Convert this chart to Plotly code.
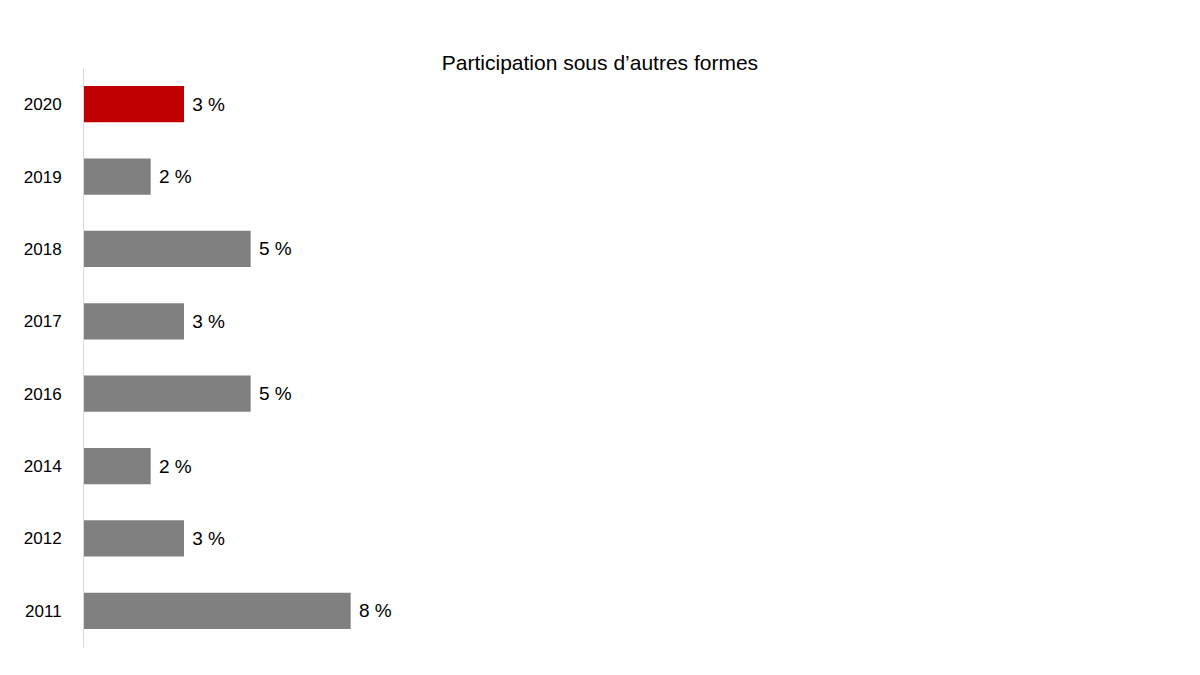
import plotly.graph_objects as go

# Participation sous d'autres formes, par année
years = ['2011', '2012', '2014', '2016', '2017', '2018', '2019', '2020']
values = [8, 3, 2, 5, 3, 5, 2, 3]
labels = ['8 %', '3 %', '2 %', '5 %', '3 %', '5 %', '2 %', '3 %']

# last year highlighted in red, the rest in grey
colors = ['#808080'] * (len(years) - 1) + ['#C00000']

fig = go.Figure()
bars = go.Bar(y=years,
              x=values,
              orientation='h',
              marker=dict(color=colors, line=dict(width=0)),
              text=labels,
              texttemplate=' %{text}',
              textposition='outside',
              cliponaxis=False,
              textfont=dict(size=19, color='#000000'),
              hoverinfo='skip')
fig.add_trace(bars)

# the page body adds 8px, margins and title x are set a bit smaller to compensate
fig.update_layout(title=dict(text="Participation sous d’autres formes",
                             x=0.4933, xanchor='center',
                             y=0.9185, yanchor='middle',
                             font=dict(size=21, color='#000000')),
                  font=dict(family='Liberation Sans, Arial, sans-serif'),
                  width=1200, height=675,
                  margin=dict(l=76, r=24, t=60, b=36),
                  bargap=0.5,
                  showlegend=False,
                  plot_bgcolor='white',
                  paper_bgcolor='white')
fig.update_xaxes(range=[0, 33], visible=False, showgrid=False, zeroline=False)
fig.update_yaxes(type='category', showgrid=False, zeroline=False,
                 showline=True, linecolor='#D9D9D9', linewidth=1,
                 ticks='', ticklabelstandoff=18, automargin=False,
                 tickfont=dict(size=17, color='#000000'))

fig.write_html("out.html")
